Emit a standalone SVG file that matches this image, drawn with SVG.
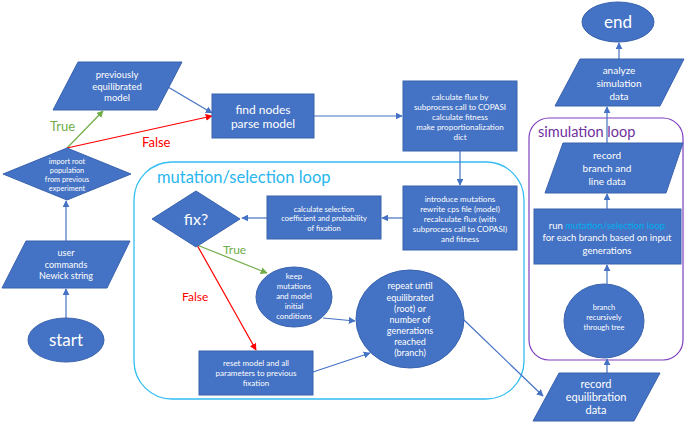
<svg xmlns="http://www.w3.org/2000/svg" width="685" height="422" viewBox="0 0 685 422">
<defs>
<style>
.n{fill:#4472c4;stroke:#3a63ae;stroke-width:1}
.t{fill:#fff;font-family:Lato,"Open Sans",sans-serif;text-anchor:middle}
.c{fill:none;stroke:#4472c4;stroke-width:1.2}
.g{fill:none;stroke:#70ad47;stroke-width:1.2}
.r{fill:none;stroke:#ff0000;stroke-width:1.2}
.lb{font-family:Lato,"Open Sans",sans-serif}
</style>
<marker id="ab" viewBox="0 0 10 10" refX="9" refY="5" markerWidth="7" markerHeight="7" orient="auto" markerUnits="userSpaceOnUse"><path d="M0,0L10,5L0,10z" fill="#4472c4"/></marker>
<marker id="ag" viewBox="0 0 10 10" refX="9" refY="5" markerWidth="7" markerHeight="7" orient="auto" markerUnits="userSpaceOnUse"><path d="M0,0L10,5L0,10z" fill="#70ad47"/></marker>
<marker id="ar" viewBox="0 0 10 10" refX="9" refY="5" markerWidth="7" markerHeight="7" orient="auto" markerUnits="userSpaceOnUse"><path d="M0,0L10,5L0,10z" fill="#ff0000"/></marker>
</defs>
<rect width="685" height="422" fill="#fff"/>

<g id="mutation-loop">
<rect x="134" y="162" width="390" height="237" rx="38" fill="none" stroke="#33bdf2" stroke-width="1.3"/>
<text x="157" y="183" class="lb" font-size="16.5" fill="#29b6f0">mutation/selection loop</text>
</g>
<g id="simulation-loop">
<rect x="529" y="118" width="154" height="242" rx="20" fill="none" stroke="#7f3fbf" stroke-width="1.2"/>
<text x="538" y="137" class="lb" font-size="14.5" fill="#7030a0">simulation loop</text>
</g>

<g id="connectors">
<line class="c" x1="66" y1="318" x2="66" y2="289" marker-end="url(#ab)"/>
<line class="c" x1="66" y1="241" x2="66" y2="201" marker-end="url(#ab)"/>
<line class="g" x1="67" y1="148" x2="103" y2="111" marker-end="url(#ag)"/>
<line class="r" x1="67" y1="148" x2="212" y2="116" marker-end="url(#ar)"/>
<line class="c" x1="168" y1="87" x2="212" y2="113" marker-end="url(#ab)"/>
<line class="c" x1="314" y1="116" x2="402" y2="116" marker-end="url(#ab)"/>
<line class="c" x1="460" y1="151" x2="460" y2="185" marker-end="url(#ab)"/>
<line class="c" x1="403" y1="218" x2="382" y2="218" marker-end="url(#ab)"/>
<line class="c" x1="267" y1="218" x2="242" y2="218" marker-end="url(#ab)"/>
<line class="g" x1="197" y1="245" x2="267" y2="273" marker-end="url(#ag)"/>
<line class="r" x1="197" y1="245" x2="256" y2="350" marker-end="url(#ar)"/>
<line class="c" x1="323" y1="318" x2="355" y2="321" marker-end="url(#ab)"/>
<line class="c" x1="313" y1="372" x2="370" y2="353" marker-end="url(#ab)"/>
<line class="c" x1="464" y1="320" x2="543" y2="396" marker-end="url(#ab)"/>
<line class="c" x1="607" y1="373" x2="607" y2="359" marker-end="url(#ab)"/>
<line class="c" x1="607" y1="284" x2="607" y2="265" marker-end="url(#ab)"/>
<line class="c" x1="607" y1="209" x2="607" y2="194" marker-end="url(#ab)"/>
<line class="c" x1="607" y1="143" x2="607" y2="107" marker-end="url(#ab)"/>
<line class="c" x1="619" y1="59" x2="619" y2="43" marker-end="url(#ab)"/>
<text x="50" y="131" class="lb" font-size="13" fill="#70ad47">True</text>
<text x="142" y="147" class="lb" font-size="13" fill="#ff0000">False</text>
<text x="223" y="254" class="lb" font-size="12" fill="#70ad47">True</text>
<text x="182" y="301" class="lb" font-size="12" fill="#ff0000">False</text>
</g>

<g id="start">
<ellipse class="n" cx="66" cy="340" rx="38" ry="22"/>
<text class="t" x="66" y="346" font-size="17">start</text>
</g>
<g id="user-commands">
<polygon class="n" points="26,241 130,241 107,288 2,288"/>
<text class="t" font-size="9"><tspan x="66" y="256">user</tspan><tspan x="66" y="268">commands</tspan><tspan x="66" y="279">Newick string</tspan></text>
</g>
<g id="import-root">
<polygon class="n" points="67,148 131,174 67,200 3,174"/>
<text class="t" font-size="7.3"><tspan x="67" y="164">import root</tspan><tspan x="67" y="173">population</tspan><tspan x="67" y="182">from previous</tspan><tspan x="67" y="191">experiment</tspan></text>
</g>
<g id="previously-equilibrated">
<polygon class="n" points="78,62 182,62 157,110 53,110"/>
<text class="t" font-size="9.5"><tspan x="117" y="77.5">previously</tspan><tspan x="117" y="89.5">equilibrated</tspan><tspan x="117" y="101">model</tspan></text>
</g>
<g id="find-nodes">
<rect class="n" x="212" y="94" width="102" height="44"/>
<text class="t" font-size="12"><tspan x="263" y="113.5">find nodes</tspan><tspan x="263" y="127.5">parse model</tspan></text>
</g>
<g id="calc-flux">
<rect class="n" x="403" y="81" width="114" height="70"/>
<text class="t" font-size="8"><tspan x="460" y="100">calculate flux by</tspan><tspan x="460" y="110">subprocess call to COPASI</tspan><tspan x="460" y="120">calculate fitness</tspan><tspan x="460" y="130">make proportionalization</tspan><tspan x="460" y="139.5">dict</tspan></text>
</g>
<g id="introduce-mutations">
<rect class="n" x="403" y="186" width="114" height="64"/>
<text class="t" font-size="8"><tspan x="460" y="202">introduce mutations</tspan><tspan x="460" y="212">rewrite cps file (model)</tspan><tspan x="460" y="222">recalculate flux (with</tspan><tspan x="460" y="232">subprocess call to COPASI)</tspan><tspan x="460" y="242">and fitness</tspan></text>
</g>
<g id="calc-selection">
<rect class="n" x="267" y="196" width="114" height="43"/>
<text class="t" font-size="7.5"><tspan x="324" y="211.5">calculate selection</tspan><tspan x="324" y="221">coefficient and probability</tspan><tspan x="324" y="231">of fixation</tspan></text>
</g>
<g id="fix">
<polygon class="n" points="196,191 240,219 196,247 152,219"/>
<text class="t" x="196" y="225" font-size="16">fix?</text>
</g>
<g id="keep-mutations">
<ellipse class="n" cx="294" cy="297" rx="38" ry="30"/>
<text class="t" font-size="7.8"><tspan x="294" y="279">keep</tspan><tspan x="294" y="289">mutations</tspan><tspan x="294" y="299">and model</tspan><tspan x="294" y="309">initial</tspan><tspan x="294" y="319">conditions</tspan></text>
</g>
<g id="reset-model">
<rect class="n" x="199" y="351" width="114" height="44"/>
<text class="t" font-size="8"><tspan x="256" y="366">reset model and all</tspan><tspan x="256" y="376">parameters to previous</tspan><tspan x="256" y="386">fixation</tspan></text>
</g>
<g id="repeat-until">
<ellipse class="n" cx="410" cy="319" rx="54" ry="49"/>
<text class="t" font-size="9"><tspan x="410" y="289">repeat until</tspan><tspan x="410" y="300.5">equilibrated</tspan><tspan x="410" y="311.5">(root) or</tspan><tspan x="410" y="322.5">number of</tspan><tspan x="410" y="334">generations</tspan><tspan x="410" y="345">reached</tspan><tspan x="410" y="356">(branch)</tspan></text>
</g>
<g id="record-equilibration">
<polygon class="n" points="559,373 660,373 634,421 533,421"/>
<text class="t" font-size="11"><tspan x="596" y="388">record</tspan><tspan x="596" y="401">equilibration</tspan><tspan x="596" y="414">data</tspan></text>
</g>
<g id="branch-recursively">
<ellipse class="n" cx="604" cy="321" rx="40" ry="37"/>
<text class="t" font-size="7.5"><tspan x="604" y="310">branch</tspan><tspan x="604" y="320">recursively</tspan><tspan x="604" y="329.5">through tree</tspan></text>
</g>
<g id="run-loop">
<rect class="n" x="534" y="209" width="147" height="55"/>
<text class="t" font-size="9.5"><tspan x="607" y="228.5">run <tspan fill="#00b0f0">mutation/selection loop</tspan></tspan><tspan x="607" y="241">for each branch based on input</tspan><tspan x="607" y="253.5">generations</tspan></text>
</g>
<g id="record-branch">
<polygon class="n" points="563,143 683,143 666,193 545,193"/>
<text class="t" font-size="10"><tspan x="607" y="159">record</tspan><tspan x="607" y="171.5">branch and</tspan><tspan x="607" y="184.5">line data</tspan></text>
</g>
<g id="analyze">
<polygon class="n" points="580,59 684,59 660,106 555,106"/>
<text class="t" font-size="10"><tspan x="619" y="74">analyze</tspan><tspan x="619" y="86.5">simulation</tspan><tspan x="619" y="99.5">data</tspan></text>
</g>
<g id="end">
<ellipse class="n" cx="618" cy="22" rx="36" ry="20"/>
<text class="t" x="618" y="28" font-size="17">end</text>
</g>
</svg>
